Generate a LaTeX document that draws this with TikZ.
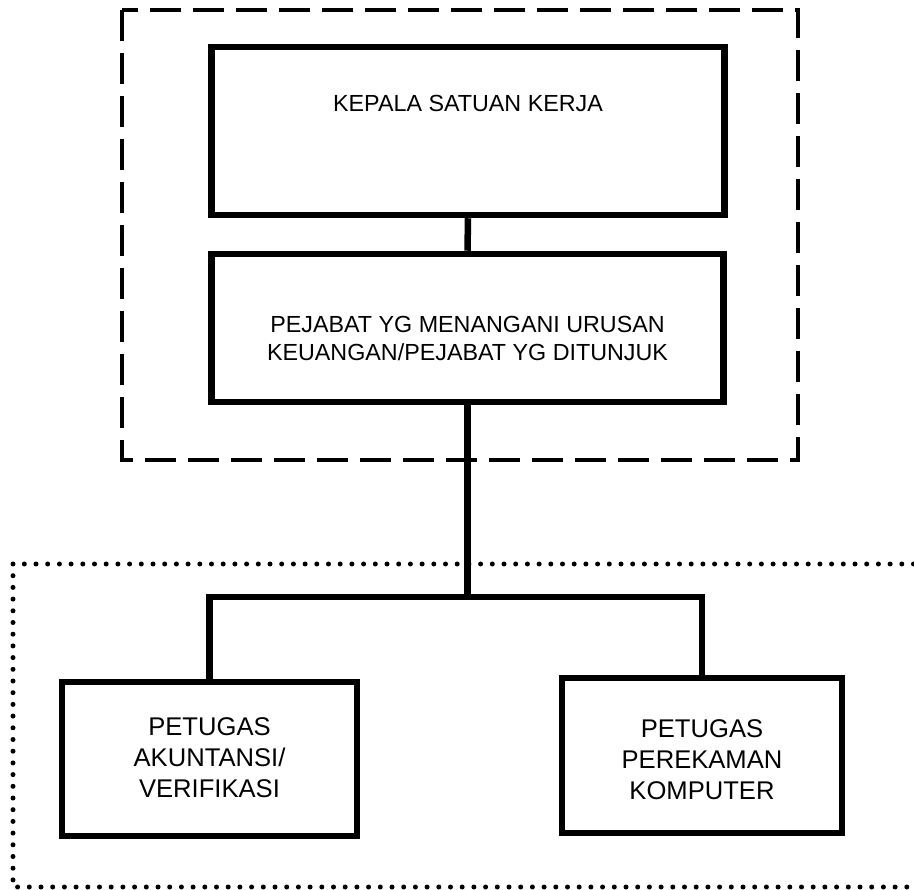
\documentclass[tikz,border=0pt]{standalone}
\usepackage{fontspec}
\setmainfont{Liberation Sans}
\usepackage{tikz}

\begin{document}
\begin{tikzpicture}[x=1pt,y=-1pt,
	box/.style={rectangle,draw,line width=6.5pt,inner sep=0pt,align=center},
	link/.style={line width=6.5pt},
	dashframe/.style={line width=4.5pt,dash pattern=on 31pt off 12pt},
	dotframe/.style={line width=5pt,line cap=round,dash pattern=on 0pt off 11.7pt}]
	\clip (0,0) rectangle (914,890);
	\draw [dashframe] (122,10) rectangle (798,460);
	\draw [dotframe] (13,564) rectangle (930,887);
	\node [box,minimum width=513pt,text height=65pt,text depth=103pt,font=\fontsize{23.3}{28}\selectfont] (kepala) at (468,131) {KEPALA SATUAN KERJA};
	\node [box,minimum width=512pt,text height=107pt,text depth=41pt,font=\fontsize{23.3}{28}\selectfont] (pejabat) at (467.5,328) {PEJABAT YG MENANGANI URUSAN\\KEUANGAN/PEJABAT YG DITUNJUK};
	\node [box,minimum width=295pt,text height=115pt,text depth=39pt,font=\fontsize{25.6}{31}\selectfont] (akuntansi) at (209.5,759) {PETUGAS\\AKUNTANSI/\\VERIFIKASI};
	\node [box,minimum width=280pt,text height=121pt,text depth=34pt,font=\fontsize{25.6}{31}\selectfont] (perekaman) at (702,755.5) {PETUGAS\\PEREKAMAN\\KOMPUTER};
	\coordinate (fork) at (467.5,597);
	\draw [link] (kepala.south) -- (pejabat.north);
	\draw [link] (pejabat.south) -- (fork);
	\draw [link] (akuntansi.north) |- (fork) -| (perekaman.north);
\end{tikzpicture}
\end{document}
